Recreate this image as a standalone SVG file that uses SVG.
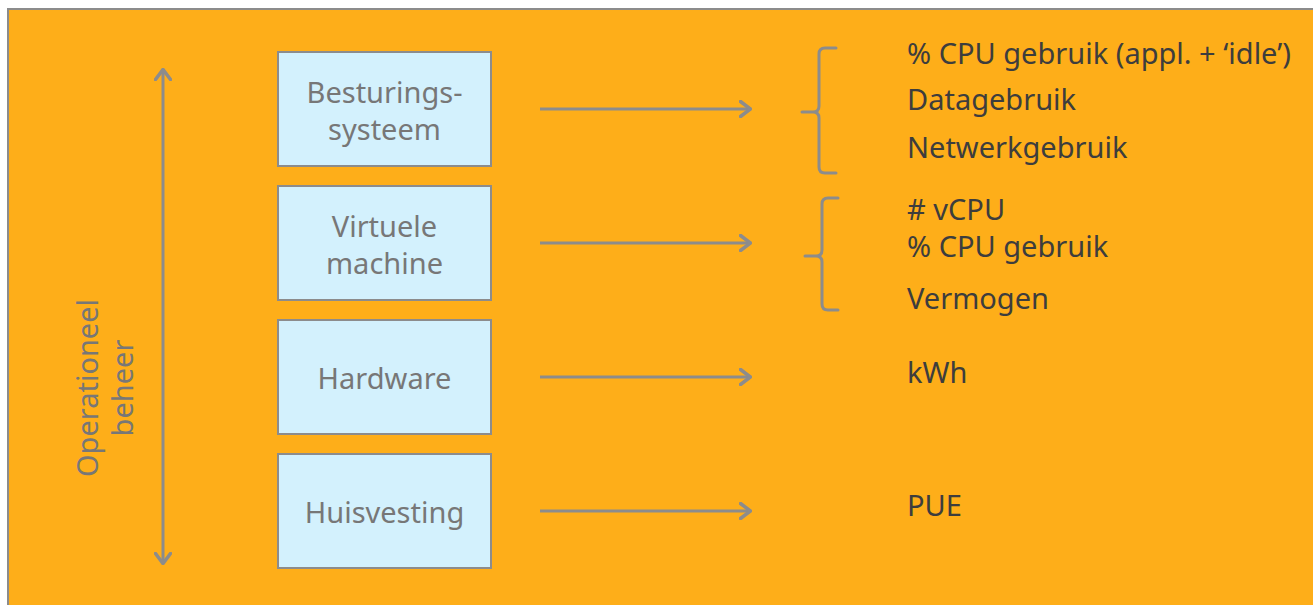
<svg xmlns="http://www.w3.org/2000/svg" width="1313" height="605" viewBox="0 0 1313 605">
<defs>
<style>
.box{fill:#d3f1fd;stroke:#8c8c8c;stroke-width:2}
.bt{font-family:"Noto Sans","Open Sans",sans-serif;font-size:29px;fill:#777777;text-anchor:middle}
.rt{font-family:"Noto Sans","Open Sans",sans-serif;font-size:29px;fill:#3d3d3d}
.ln{stroke:#8c8c8c;stroke-width:3;fill:none}
.br{stroke:#8c8c8c;stroke-width:3;fill:none;stroke-linecap:round}
</style>
<marker id="ah" viewBox="0 0 13 18" refX="12" refY="9" markerWidth="13" markerHeight="18" markerUnits="userSpaceOnUse" orient="auto-start-reverse">
<path d="M1.5,1.5 L11.5,9 L1.5,16.5" fill="none" stroke="#8c8c8c" stroke-width="3.5" stroke-linecap="round" stroke-linejoin="miter"/>
</marker>
</defs>
<rect x="0" y="0" width="1313" height="605" fill="#ffffff"/>
<rect x="8" y="9" width="1310" height="600" fill="#feae19" stroke="#8c8c8c" stroke-width="2"/>
<g id="label-operationeel">
<text class="bt" transform="translate(98,388) rotate(-90)">Operationeel</text>
<text class="bt" transform="translate(133,388) rotate(-90)">beheer</text>
</g>
<g id="node-besturingssysteem">
<rect class="box" x="278" y="52" width="213" height="114"/>
<text class="bt" x="384.5" y="103">Besturings-</text>
<text class="bt" x="384.5" y="140">systeem</text>
</g>
<g id="node-virtuele-machine">
<rect class="box" x="278" y="186" width="213" height="114"/>
<text class="bt" x="384.5" y="237">Virtuele</text>
<text class="bt" x="384.5" y="274">machine</text>
</g>
<g id="node-hardware">
<rect class="box" x="278" y="320" width="213" height="114"/>
<text class="bt" x="384.5" y="389">Hardware</text>
</g>
<g id="node-huisvesting">
<rect class="box" x="278" y="454" width="213" height="114"/>
<text class="bt" x="384.5" y="523">Huisvesting</text>
</g>
<g id="connectors">
<line class="ln" x1="163" y1="69" x2="163" y2="564" marker-start="url(#ah)" marker-end="url(#ah)"/>
<line class="ln" x1="540" y1="109" x2="751" y2="109" marker-end="url(#ah)"/>
<line class="ln" x1="540" y1="243" x2="751" y2="243" marker-end="url(#ah)"/>
<line class="ln" x1="540" y1="377" x2="751" y2="377" marker-end="url(#ah)"/>
<line class="ln" x1="540" y1="511" x2="751" y2="511" marker-end="url(#ah)"/>
</g>
<g id="braces">
<path class="br" d="M836,48 L825,48 Q819,48 819,54 L819,106 Q819,112 813,112 L802,112 M813,112 Q819,112 819,118 L819,167 Q819,173 825,173 L836,173"/>
<path class="br" d="M838,198 L828,198 Q822,198 822,204 L822,250 Q822,256 816,256 L805,256 M816,256 Q822,256 822,262 L822,304 Q822,310 828,310 L838,310"/>
</g>
<g id="metrics">
<text class="rt" x="907" y="64">% CPU gebruik (appl. + ‘idle’)</text>
<text class="rt" x="907" y="110">Datagebruik</text>
<text class="rt" x="907" y="158">Netwerkgebruik</text>
<text class="rt" x="907" y="220">#&#160;vCPU</text>
<text class="rt" x="907" y="257">% CPU gebruik</text>
<text class="rt" x="907" y="309">Vermogen</text>
<text class="rt" x="907" y="383">kWh</text>
<text class="rt" x="907" y="516">PUE</text>
</g>
</svg>
